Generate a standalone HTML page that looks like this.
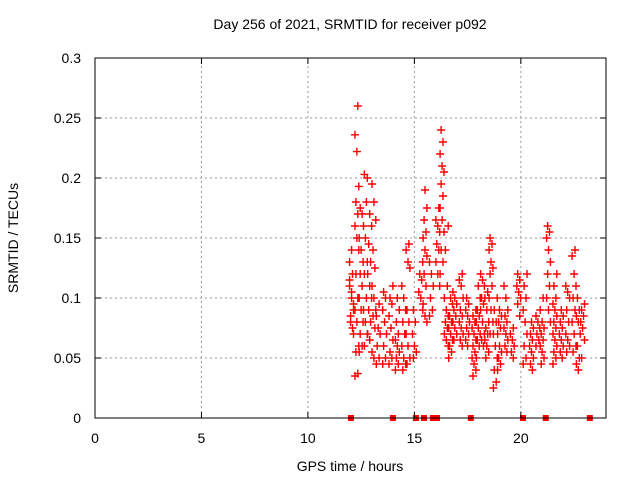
<!DOCTYPE html>
<html><head><meta charset="utf-8"><style>
body{margin:0;background:#fff}
svg{display:block;font-family:"Liberation Sans",sans-serif}
</style></head><body>
<svg id="chart" width="640" height="480" viewBox="0 0 640 480">
<rect width="640" height="480" fill="#fff"/>
<g id="grid"></g>
<g id="marks"></g>
<rect x="95" y="58" width="511" height="360" fill="none" stroke="#000" stroke-width="1"/>
<g id="ticks" font-size="14" fill="#000"></g>
<text x="350" y="29" font-size="14" text-anchor="middle">Day 256 of 2021, SRMTID for receiver p092</text>
<text x="350" y="471" font-size="14" text-anchor="middle">GPS time / hours</text>
<text transform="translate(18,238) rotate(-90)" font-size="14" text-anchor="middle">SRMTID / TECUs</text>
</svg>
<script>
const xTicks=[0,5,10,15,20];
const yTicks=[0,0.05,0.1,0.15,0.2,0.25,0.3];
const yTickLabels=["0","0.05","0.1","0.15","0.2","0.25","0.3"];
const groupTimes=[12.05,12.3,12.5,12.7,12.9,13.1,13.3,13.6,13.9,14.2,14.5,14.7,15.0,15.3,15.5,15.8,16.1,16.3,16.5,16.7,16.9,17.2,17.5,17.8,18.0,18.2,18.4,18.6,18.8,19.0,19.3,19.6,19.9,20.2,20.5,20.8,21.0,21.3,21.6,21.9,22.2,22.5,22.7,22.9];
const groupValues=[
[0.11,0.10,0.09,0.08,0.12,0.115,0.105,0.095,0.085,0.075,0.13,0.14,0.07],
[0.26,0.236,0.222,0.193,0.18,0.17,0.16,0.15,0.14,0.12,0.10,0.09,0.08,0.06,0.055,0.037,0.035],
[0.175,0.17,0.15,0.14,0.13,0.12,0.11,0.10,0.09,0.08,0.07,0.06,0.055],
[0.20,0.203,0.18,0.16,0.15,0.13,0.12,0.10,0.09,0.08,0.07,0.06],
[0.17,0.16,0.145,0.13,0.12,0.11,0.10,0.09,0.08,0.07,0.065],
[0.195,0.18,0.165,0.14,0.125,0.11,0.10,0.09,0.085,0.075,0.055,0.05],
[0.095,0.085,0.075,0.07,0.06,0.05,0.045],
[0.105,0.10,0.09,0.08,0.07,0.06,0.05,0.045],
[0.11,0.10,0.095,0.085,0.075,0.065,0.055,0.05,0.045],
[0.10,0.09,0.08,0.07,0.065,0.06,0.055,0.05,0.045,0.04],
[0.11,0.10,0.09,0.08,0.07,0.06,0.05,0.045,0.04],
[0.145,0.14,0.13,0.125,0.09,0.08,0.07,0.06,0.05,0.045],
[0.09,0.08,0.07,0.06,0.055,0.05],
[0.13,0.12,0.115,0.105,0.10,0.09],
[0.19,0.175,0.165,0.155,0.15,0.14,0.135,0.12,0.11,0.095,0.085,0.08],
[0.13,0.12,0.11,0.10,0.09,0.085],
[0.175,0.165,0.16,0.155,0.145,0.14,0.13,0.12,0.11],
[0.24,0.23,0.22,0.21,0.205,0.195,0.185,0.175,0.165,0.155,0.14,0.13,0.12],
[0.16,0.14,0.11,0.10,0.09,0.085,0.08,0.075,0.07,0.065,0.06],
[0.10,0.095,0.085,0.08,0.075,0.07,0.065,0.06,0.055,0.05],
[0.105,0.10,0.095,0.09,0.085,0.08,0.075,0.07,0.065],
[0.12,0.115,0.11,0.10,0.09,0.085,0.08,0.075,0.07,0.065,0.06],
[0.10,0.095,0.09,0.085,0.08,0.075,0.07,0.065,0.06],
[0.09,0.085,0.08,0.075,0.07,0.065,0.06,0.055,0.05,0.045,0.04,0.035],
[0.11,0.10,0.09,0.085,0.08,0.075,0.07,0.065,0.06,0.05],
[0.12,0.115,0.11,0.10,0.095,0.09,0.08,0.07,0.065,0.06],
[0.105,0.10,0.09,0.08,0.075,0.07,0.065,0.06,0.055,0.05],
[0.15,0.145,0.14,0.13,0.125,0.12,0.11,0.10,0.09,0.08,0.07],
[0.10,0.09,0.08,0.07,0.06,0.05,0.04,0.03,0.025],
[0.09,0.085,0.08,0.075,0.07,0.06,0.055,0.05,0.045,0.04],
[0.11,0.10,0.09,0.085,0.08,0.075,0.07,0.065,0.06,0.055],
[0.075,0.07,0.065,0.06,0.055,0.05],
[0.12,0.115,0.11,0.105,0.10,0.095,0.085],
[0.12,0.11,0.10,0.09,0.08,0.07,0.06,0.05,0.045],
[0.08,0.075,0.07,0.065,0.06,0.055,0.05,0.045,0.04],
[0.085,0.08,0.075,0.07,0.065,0.06],
[0.10,0.09,0.08,0.075,0.07,0.065,0.06,0.055,0.05,0.045],
[0.16,0.155,0.15,0.14,0.13,0.12,0.11,0.10,0.09,0.08],
[0.12,0.11,0.10,0.095,0.09,0.085,0.08,0.075,0.07,0.065,0.06,0.055,0.05,0.045],
[0.09,0.085,0.08,0.075,0.07,0.065,0.06,0.055,0.05],
[0.11,0.105,0.10,0.09,0.08,0.07,0.065,0.06,0.055],
[0.14,0.135,0.12,0.11,0.10,0.09,0.08,0.07,0.06,0.055],
[0.10,0.09,0.085,0.08,0.07,0.06,0.05,0.045,0.04],
[0.095,0.09,0.085,0.08,0.075,0.065,0.05]];
const gapTimes=[12.02,13.99,15.07,15.45,15.87,16.06,17.65,20.1,21.17,23.24];

const X0=95,X1=606,Y0=418,Y1=58;
const xs=t=>X0+(X1-X0)*t/24;
const ys=v=>Y0+(Y1-Y0)*v/0.3;
const NS="http://www.w3.org/2000/svg";
function mk(tag,attrs,parent){const e=document.createElementNS(NS,tag);for(const k in attrs)e.setAttribute(k,attrs[k]);parent.appendChild(e);return e;}
const grid=document.getElementById('grid'),ticks=document.getElementById('ticks'),marks=document.getElementById('marks');
xTicks.forEach(t=>{
  const x=xs(t);
  if(t>0){const g=mk('line',{x1:x,y1:Y0,x2:x,y2:Y1,stroke:'#999','stroke-dasharray':'2,3'},grid);
  
  }
  mk('line',{x1:x,y1:Y0,x2:x,y2:Y0-6,stroke:'#000'},ticks);
  mk('line',{x1:x,y1:Y1,x2:x,y2:Y1+6,stroke:'#000'},ticks);
  const l=mk('text',{x:x,y:443,'text-anchor':'middle'},ticks);l.textContent=String(t);
  
  
});
yTicks.forEach((v,i)=>{
  const y=ys(v);
  if(v>0&&v<0.3){const g=mk('line',{x1:X0,y1:y,x2:X1,y2:y,stroke:'#999','stroke-dasharray':'2,3'},grid);
  
  }
  mk('line',{x1:X0,y1:y,x2:X0+6,y2:y,stroke:'#000'},ticks);
  mk('line',{x1:X1,y1:y,x2:X1-6,y2:y,stroke:'#000'},ticks);
  const l=mk('text',{x:81,y:y+5,'text-anchor':'end'},ticks);l.textContent=yTickLabels[i];
  
  
});
let d='';
groupTimes.forEach((t,gi)=>{
  groupValues[gi].forEach((v,i)=>{
    const off=(((i*7+gi*3)%5)-2)*0.045;
    const x=xs(t+off),y=ys(v);
    d+=`M${(x-4).toFixed(1)} ${y.toFixed(1)}h8M${x.toFixed(1)} ${(y-4).toFixed(1)}v8`;
  });
});
const p=mk('path',{d:d,stroke:'#f00','stroke-width':1.4,fill:'none'},marks);


gapTimes.forEach(t=>{
  const r=mk('rect',{x:xs(t)-3,y:Y0-3,width:6,height:6,fill:'#f00'},marks);
  
  
});
</script>
</body></html>
